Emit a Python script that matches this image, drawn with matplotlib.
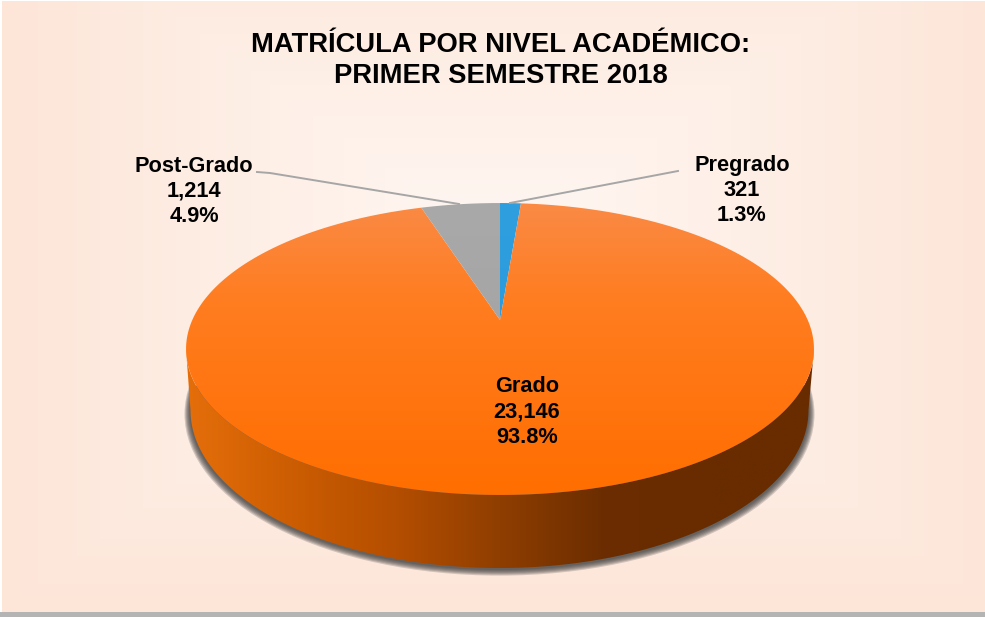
import matplotlib
matplotlib.use('Agg')
import matplotlib.pyplot as plt
from matplotlib.colors import LinearSegmentedColormap
from matplotlib.patches import Ellipse, Polygon, Rectangle
import numpy as np

# data, clockwise from the top of the pie
niveles = ['Pregrado', 'Grado', 'Post-Grado']
matricula = [321, 23146, 1214]
titulo = ['MATRÍCULA POR NIVEL ACADÉMICO:', 'PRIMER SEMESTRE 2018']

W, H = 985, 617
plt.rcParams['font.family'] = ['Liberation Sans', 'DejaVu Sans']

fig = plt.figure(figsize=(W / 100, H / 100), dpi=100)
ax = fig.add_axes([0, 0, 1, 1])


# page background: soft rectangular glow around the pie
yy, xx = np.mgrid[0:H, 0:W]
t = np.maximum(np.abs(xx - 500) / 500, np.abs(yy - 250) / 360)
bg_cmap = LinearSegmentedColormap.from_list('bg', ['#FFF7F3', '#FEEFE6', '#FDE5D8'])
ax.imshow(t, cmap=bg_cmap, vmin=0, vmax=1, extent=(0, W, H, 0), aspect='auto', zorder=0)
ax.add_patch(Rectangle((0, 0), 2, H, color='white', zorder=1, lw=0))
ax.add_patch(Rectangle((0, 0), W, 1, color='white', zorder=1, lw=0))
ax.add_patch(Rectangle((0, 612), W, 5, color='#B4B4B4', zorder=1, lw=0))

# the pie gives the slice angles, drawn below in perspective
wedges, _ = ax.pie(matricula, startangle=90, counterclock=False, radius=1)
angles = [(w.theta1, w.theta2) for w in wedges]
for w in wedges:
    w.remove()

cx, cy = 500, 320
k = 0.1986
a = 140.2
b = 307.7


def project(u, v):
    # tilt of the unit disc: the near side gets bigger
    d = 1 + k * v
    return cx + b * u / d, cy - a * v / d


def gradient_fill(pts, colors, horizontal=False, z=3, lims=None):
    poly = Polygon(pts, closed=True, fc='none', ec='none', zorder=z)
    ax.add_patch(poly)
    x0, x1 = pts[:, 0].min(), pts[:, 0].max()
    y0, y1 = pts[:, 1].min(), pts[:, 1].max()
    if lims is not None:
        if horizontal:
            x0, x1 = lims
        else:
            y0, y1 = lims
    grad = np.linspace(0, 1, 256)
    grad = grad[None, :] if horizontal else grad[:, None]
    cmap = LinearSegmentedColormap.from_list('g', colors)
    im = ax.imshow(grad, cmap=cmap, extent=(x0, x1, y1, y0), aspect='auto', zorder=z,
                   interpolation='bilinear')
    im.set_clip_path(poly)


# shadow under the wall
clip = Rectangle((0, 386), W, 300, transform=ax.transData)
for i, grow in enumerate([6, 5, 4, 3, 2, 1]):
    e = Ellipse((499.5, 411 + 0.5 * grow), 2 * (309 + grow), 2 * (158 + 0.6 * grow),
                fc='#3C3C3C', ec='none', alpha=0.22, zorder=2)
    ax.add_patch(e)
    e.set_clip_path(clip)

# side wall
s = np.linspace(0, np.pi, 300)
top_x = 500 - 314 * np.cos(s)
top_y = 349 + 146 * np.sin(s)
bot_x = 499.5 + 309 * np.cos(s)
bot_y = 410 + 158 * np.sin(s)
wall = np.column_stack([np.r_[top_x, bot_x], np.r_[top_y, bot_y]])
stops = ['#E56E0A', '#CC5D02', '#B44E00', '#8F3E00', '#6B2D00', '#682C00', '#682C00']
gradient_fill(wall, stops, horizontal=True, z=3)

# top faces
slice_colors = [['#2F9FE0', '#2A96D8'], ['#FA8A45', '#FF7D20', '#FF7510', '#FF6E00'],
                ['#A9A9A9', '#A0A0A0']]
for (th1, th2), cols in zip(angles, slice_colors):
    th = np.radians(np.linspace(th1, th2, 400))
    px, py = project(np.cos(th), np.sin(th))
    pts = np.column_stack([np.r_[cx, px], np.r_[cy, py]])
    gradient_fill(pts, cols, z=4, lims=(203, 495))

# leader lines
ax.plot([510, 678], [203, 171], color='#A6A6A6', lw=1.4, zorder=5)
ax.plot([459, 270, 257], [204, 173, 172], color='#A6A6A6', lw=1.4, zorder=5)

# labels
total = sum(matricula)
label_pos = [(742, 165), (527, 387), (194, 166)]
for nivel, val, (lx, ly) in zip(niveles, matricula, label_pos):
    for i, txt in enumerate([nivel, f'{val:,}', f'{val / total:.1%}']):
        ax.text(lx, ly + i * 25.3, txt, ha='center', va='center', fontsize=15.7,
                fontweight='bold', color='#000000', zorder=6)

for txt, ty in zip(titulo, [45, 76]):
    ax.text(501, ty, txt, ha='center', va='center', fontsize=19.7,
            fontweight='bold', color='#000000', zorder=6)

ax.set_xlim(0, W)
ax.set_ylim(H, 0)
ax.set_aspect('auto')
ax.axis('off')
fig.savefig('out.png', dpi=100)
